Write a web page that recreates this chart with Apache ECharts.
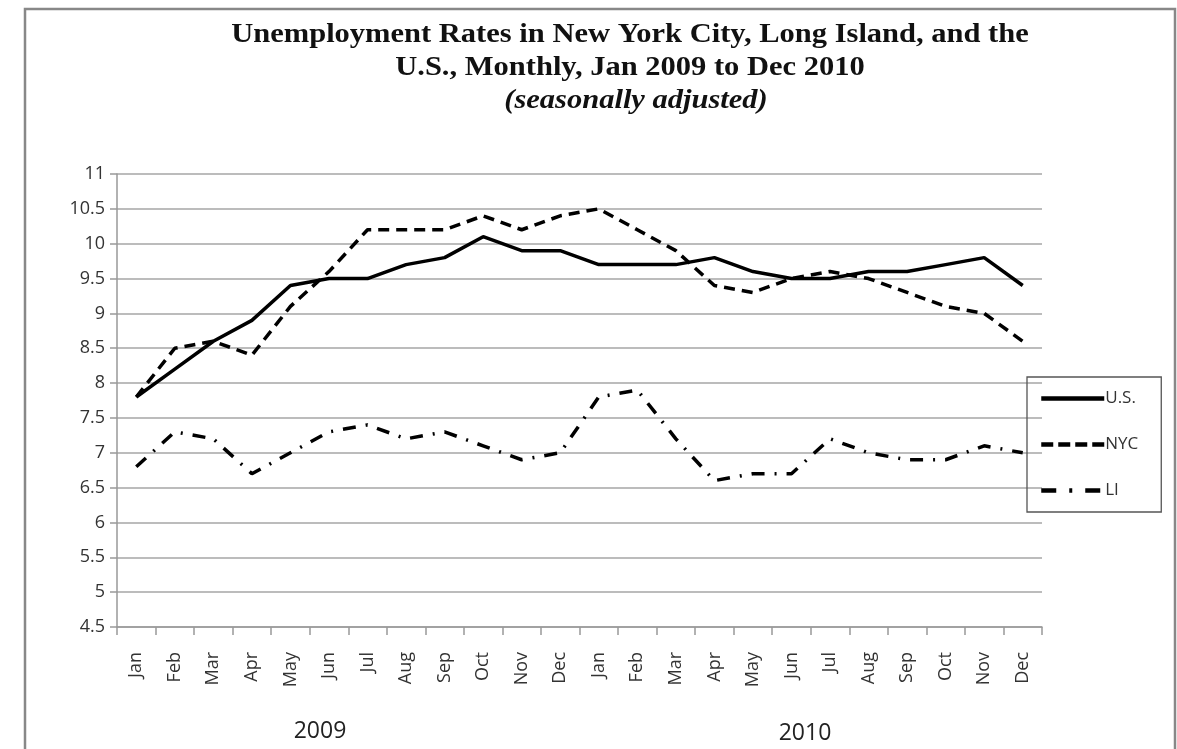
<!DOCTYPE html>
<html>
<head>
<meta charset="utf-8">
<script src="https://cdn.jsdelivr.net/npm/echarts@6/dist/echarts.min.js"></script>
<style>
html,body{margin:0;padding:0;background:#fff;}
#chart{width:1177px;height:749px;}
</style>
</head>
<body>
<div id="chart"></div>
<script>
const months = ['Jan','Feb','Mar','Apr','May','Jun','Jul','Aug','Sep','Oct','Nov','Dec',
                'Jan','Feb','Mar','Apr','May','Jun','Jul','Aug','Sep','Oct','Nov','Dec'];
const years = ['2009','2010'];
const titleLines = ['Unemployment Rates in New York City, Long Island, and the',
                    'U.S., Monthly, Jan 2009 to Dec 2010',
                    '(seasonally adjusted)'];
const usRate  = [7.8,8.2,8.6,8.9,9.4,9.5,9.5,9.7,9.8,10.1,9.9,9.9, 9.7,9.7,9.7,9.8,9.6,9.5,9.5,9.6,9.6,9.7,9.8,9.4];
const nycRate = [7.8,8.5,8.6,8.4,9.1,9.6,10.2,10.2,10.2,10.4,10.2,10.4, 10.5,10.2,9.9,9.4,9.3,9.5,9.6,9.5,9.3,9.1,9.0,8.6];
const liRate  = [6.8,7.3,7.2,6.7,7.0,7.3,7.4,7.2,7.3,7.1,6.9,7.0, 7.8,7.9,7.2,6.6,6.7,6.7,7.2,7.0,6.9,6.9,7.1,7.0];

const chart = echarts.init(document.getElementById('chart'));
const labelFont = 'Open Sans';
const tFont = 'bold 27px "Liberation Serif"';
chart.setOption({
  backgroundColor: '#fff',
  animation: false,
  legend: {
    orient: 'vertical',
    left: 1027, top: 377,
    padding: [13, 23, 13, 12],
    itemWidth: 63, itemHeight: 16, itemGap: 29,
    borderColor: '#555', borderWidth: 1.3,
    itemStyle: {color: 'rgba(0,0,0,0)', borderWidth: 0, opacity: 0},
    lineStyle: {width: 4.5},
    textStyle: {fontFamily: labelFont, fontSize: 17, color: '#333', padding: [0,0,0,-4]},
    data: [
      {name: 'U.S.'},
      {name: 'NYC', lineStyle: {type: [12, 5], width: 4.5}},
      {name: 'LI', lineStyle: {type: [15, 13, 3, 13], width: 4.5}}
    ]
  },
  grid: {left: 117, right: 135, top: 174, bottom: 122, containLabel: false},
  xAxis: {
    type: 'category',
    data: months,
    boundaryGap: true,
    axisLine: {lineStyle: {color: '#999', width: 1.5}},
    axisTick: {show: true, length: 8, alignWithLabel: false, lineStyle: {color: '#999', width: 1.5}},
    axisLabel: {rotate: 90, interval: 0, margin: 25, fontFamily: labelFont, fontSize: 18, color: '#333'},
    splitLine: {show: false}
  },
  yAxis: {
    type: 'value',
    min: 4.5, max: 11, interval: 0.5,
    axisLine: {show: true, lineStyle: {color: '#999', width: 1.5}},
    axisTick: {show: true, length: 7, lineStyle: {color: '#999', width: 1.5}},
    axisLabel: {margin: 12, fontFamily: labelFont, fontSize: 18, color: '#333'},
    splitLine: {lineStyle: {color: '#a6a6a6', width: 1.5}}
  },
  graphic: [
    {type: 'rect', shape: {x: 25, y: 9, width: 1150, height: 760}, style: {fill: 'none', stroke: '#888', lineWidth: 2.5}, silent: true},
    {type: 'text', x: 630, y: 35, scaleX: 1.13, style: {text: titleLines[0], font: tFont, fill: '#111', textAlign: 'center', textVerticalAlign: 'middle'}},
    {type: 'text', x: 630, y: 68, scaleX: 1.13, style: {text: titleLines[1], font: tFont, fill: '#111', textAlign: 'center', textVerticalAlign: 'middle'}},
    {type: 'text', x: 636, y: 101, scaleX: 1.13, style: {text: titleLines[2], font: 'italic ' + tFont, fill: '#111', textAlign: 'center', textVerticalAlign: 'middle'}},
    {type: 'text', x: 320, y: 731, style: {text: years[0], font: '23px "Open Sans"', fill: '#222', textAlign: 'center', textVerticalAlign: 'middle'}},
    {type: 'text', x: 805, y: 733, style: {text: years[1], font: '23px "Open Sans"', fill: '#222', textAlign: 'center', textVerticalAlign: 'middle'}}
  ],
  series: [
    {name: 'U.S.', type: 'line', data: usRate, symbol: 'none', lineStyle: {color: '#000', width: 3.5}, itemStyle: {color: '#000'}},
    {name: 'NYC', type: 'line', data: nycRate, symbol: 'none', lineStyle: {color: '#000', width: 3.5, type: [11, 7]}, itemStyle: {color: '#000'}},
    {name: 'LI', type: 'line', data: liRate, symbol: 'none', lineStyle: {color: '#000', width: 3.5, type: [13, 10, 2, 10]}, itemStyle: {color: '#000'}}
  ]
});
</script>
</body>
</html>
